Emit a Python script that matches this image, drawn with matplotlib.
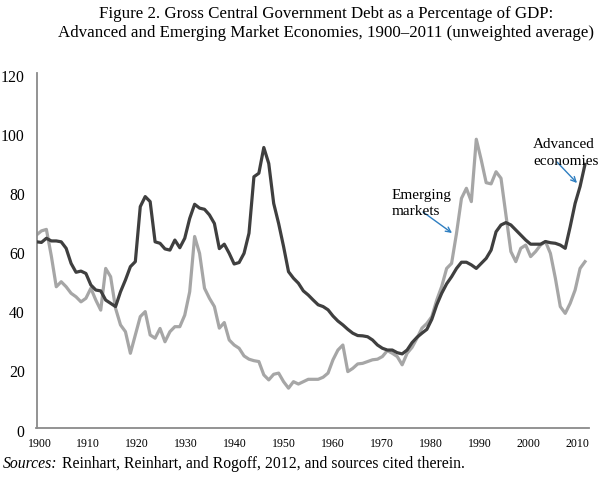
import matplotlib
matplotlib.use("Agg")
import matplotlib.pyplot as plt
from matplotlib.transforms import ScaledTranslation

plt.rcParams['font.family'] = ['Liberation Serif', 'DejaVu Serif']

years = list(range(1900, 2012))

advanced = [
    62.8, 62.6, 64.0, 63.1, 63.1, 62.8, 60.6, 55.5, 52.5, 52.9,   # 1900-1909
    52.1, 48.2, 46.5, 46.2, 43.1, 42.0, 40.9, 45.9, 49.9, 54.4,   # 1910-1919
    56.1, 74.7, 78.1, 76.4, 62.8, 62.3, 60.4, 60.0, 63.4, 60.8,   # 1920-1929
    64.0, 70.7, 75.5, 74.2, 73.8, 71.9, 69.0, 60.5, 62.0, 58.9,   # 1930-1939
    55.3, 55.8, 58.9, 65.7, 84.8, 86.0, 94.7, 89.3, 75.8, 69.0,   # 1940-1949
    61.2, 52.7, 50.5, 48.8, 46.2, 44.8, 43.1, 41.5, 40.9, 39.8,   # 1950-1959
    37.7, 36.0, 34.7, 33.2, 31.9, 31.1, 31.0, 30.7, 29.6, 27.9,   # 1960-1969
    26.8, 26.2, 26.2, 25.3, 24.9, 26.2, 28.7, 30.5, 31.9, 33.2,   # 1970-1979
    36.6, 41.5, 45.4, 48.6, 51.0, 53.8, 55.9, 55.9, 55.0, 53.8,   # 1980-1989
    55.5, 57.2, 60.0, 66.2, 68.5, 69.3, 68.5, 66.8, 65.1, 63.4,   # 1990-1999
    62.0, 62.0, 62.0, 62.9, 62.5, 62.3, 61.7, 60.6, 67.9, 75.8,   # 2000-2009
    81.5, 89.0,                                                   # 2010-2011
]

emerging = [
    65.1, 66.5, 67.0, 58.0, 47.6, 49.3, 47.6, 45.4, 44.2, 42.5,   # 1900-1909
    43.7, 47.1, 43.1, 39.7, 53.8, 51.0, 40.3, 34.7, 32.4, 25.1,   # 1910-1919
    31.3, 37.5, 39.2, 31.3, 30.2, 33.5, 29.0, 32.4, 34.1, 34.1,   # 1920-1929
    38.0, 45.9, 64.6, 58.9, 47.1, 43.7, 40.9, 33.6, 35.5, 29.6,   # 1930-1939
    27.9, 26.8, 24.2, 23.1, 22.6, 22.3, 17.8, 16.1, 18.0, 18.4,   # 1940-1949
    15.5, 13.3, 15.5, 14.7, 15.5, 16.3, 16.3, 16.3, 17.0, 18.4,   # 1950-1959
    22.9, 26.2, 27.9, 18.9, 20.0, 21.5, 21.7, 22.3, 22.9, 23.1,   # 1960-1969
    24.0, 26.0, 25.1, 24.0, 21.2, 25.1, 27.1, 30.2, 33.6, 35.2,   # 1970-1979
    37.5, 43.1, 47.7, 53.8, 55.5, 65.7, 77.5, 80.9, 76.4, 97.5,   # 1980-1989
    90.5, 82.8, 82.4, 86.5, 84.3, 71.9, 59.5, 56.1, 60.6, 61.7,   # 1990-1999
    57.8, 59.5, 61.7, 62.9, 58.9, 50.5, 40.9, 38.6, 42.0, 46.5,   # 2000-2009
    53.8, 56.1,                                                   # 2010-2011
]

xtick_labels = ['1900', '1910', '1920', '1930', '1940', '1950', '1960',
                '1970', '1980', '1990', '2000', '2010']
ytick_values = [0, 20, 40, 60, 80, 100, 120]

title_line1 = "Figure 2. Gross Central Government Debt as a Percentage of GDP:"
title_line2 = "Advanced and Emerging Market Economies, 1900\u20132011 (unweighted average)"
source_label = "Sources:"
source_text = " Reinhart, Reinhart, and Rogoff, 2012, and sources cited therein."
label_emerging = ["Emerging", "markets"]
label_advanced = ["Advanced", "economies"]

W, H = 599, 494
fig = plt.figure(figsize=(W / 100, H / 100), dpi=100)

# axes placement (pixels)
ax_l, ax_r, ax_b, ax_t = 36.5, 589, 427.5, 72.7
ax = fig.add_axes([ax_l / W, 1 - ax_b / H, (ax_r - ax_l) / W, (ax_b - ax_t) / H])

ax.plot(years, emerging, color='#a6a6a6', lw=2.3, solid_joinstyle='round', zorder=2)
ax.plot(years, advanced, color='#3f3f3f', lw=2.3, solid_joinstyle='round', zorder=3)

x0 = 1900
px_per_year = (585 - ax_l) / 111.0
ax.set_xlim(x0, x0 + (ax_r - ax_l) / px_per_year)
ax.set_ylim(0, 120)

for s in ['top', 'right']:
    ax.spines[s].set_visible(False)
for s in ['left', 'bottom']:
    ax.spines[s].set_color('#8a8a8a')
    ax.spines[s].set_linewidth(1.3)

ax.set_yticks(ytick_values)
ax.set_yticklabels([str(v) for v in ytick_values], fontsize=11.3)
tick_pos = [1900.6 + 9.9 * i for i in range(len(xtick_labels))]
ax.set_xticks(tick_pos)
ax.set_xticklabels(xtick_labels, fontsize=8.6)
ax.tick_params(axis='both', length=0)
ax.tick_params(axis='y', pad=8.5)
ax.tick_params(axis='x', pad=7.5)
for lab in ax.get_yticklabels():
    lab.set_transform(lab.get_transform() + ScaledTranslation(0, -3 / 100, fig.dpi_scale_trans))

def fy(y):
    return 1 - y / H

fig.text(99 / W, fy(18.3), title_line1, fontsize=12.15, va='baseline', ha='left')
fig.text(58 / W, fy(36.7), title_line2, fontsize=12.15, va='baseline', ha='left')

t = fig.text(3 / W, fy(468), source_label, fontsize=11.3, style='italic', va='baseline', ha='left')
fig.canvas.draw()
bb = t.get_window_extent()
fig.text(bb.x1 / W, fy(468), source_text, fontsize=11.3, va='baseline', ha='left')

for txt, yb in zip(label_emerging, [198.5, 214.5]):
    fig.text(392 / W, fy(yb), txt, fontsize=11, va='baseline', ha='left')
for txt, yb in zip(label_advanced, [148.5, 165]):
    fig.text(533 / W, fy(yb), txt, fontsize=11, va='baseline', ha='left')

arrow_color = '#2f7fc1'
for (xa, ya), (xb, yb) in [((423, 212), (452, 233)), ((557, 162), (577, 183))]:
    ax.annotate('', xy=(xb, H - yb), xytext=(xa, H - ya),
                xycoords='figure pixels', textcoords='figure pixels',
                arrowprops=dict(arrowstyle='->', color=arrow_color, lw=1.0,
                                mutation_scale=9, shrinkA=0, shrinkB=0),
                zorder=5)

fig.savefig('out.png', dpi=100)
